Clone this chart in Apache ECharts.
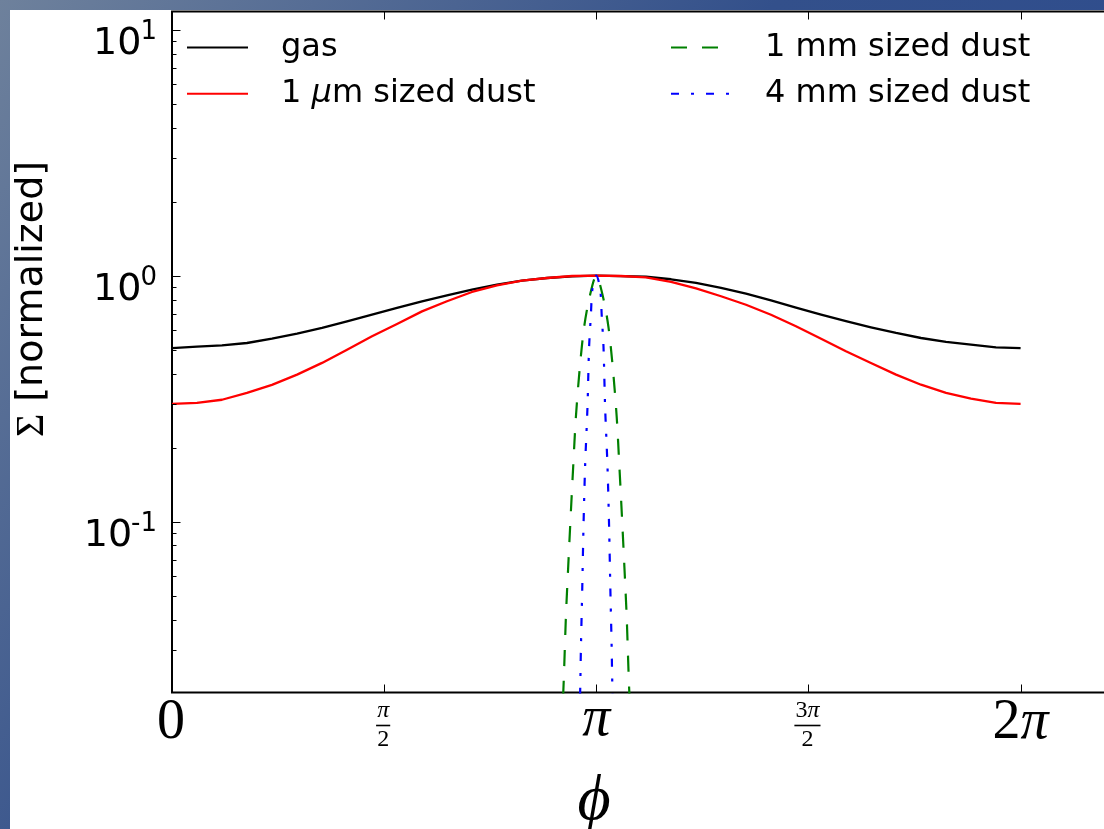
<!DOCTYPE html>
<html><head><meta charset="utf-8">
<script src="https://cdn.jsdelivr.net/npm/echarts@6/dist/echarts.min.js"></script>
<style>html,body{margin:0;padding:0;background:#fff}#c{width:1104px;height:829px}</style>
</head><body><div id="c"></div>
<script>
const PI = Math.PI;
// ---- data ----
const gasPhi   = [0, 0.185, 0.370, 0.555, 0.740, 0.926, 1.111, 1.296, 1.481, 1.666, 1.851, 2.036, 2.221, 2.406, 2.591, 2.777, 2.962, 3.1416,
                  3.324, 3.509, 3.695, 3.880, 4.065, 4.250, 4.435, 4.620, 4.806, 4.990, 5.175, 5.361, 5.546, 5.731, 5.916, 6.101, 6.2832];
const gasSigma = [0.508, 0.5143, 0.521, 0.5325, 0.5545, 0.581, 0.613, 0.6526, 0.694, 0.7391, 0.787, 0.8324, 0.877, 0.9192, 0.954, 0.9787, 0.994, 1.0,
                  0.996, 0.990, 0.967, 0.935, 0.893, 0.845, 0.794, 0.742, 0.694, 0.653, 0.617, 0.585, 0.558, 0.5376, 0.5242, 0.5116, 0.508];
const dust1umPhi   = gasPhi.slice();
const dust1umSigma = [0.301, 0.3038, 0.313, 0.3336, 0.360, 0.3959, 0.442, 0.5003, 0.567, 0.6364, 0.716, 0.7868, 0.8585, 0.914, 0.954, 0.9787, 0.997, 1.0,
                      0.997, 0.985, 0.943, 0.888, 0.825, 0.762, 0.694, 0.623, 0.5545, 0.493, 0.4417, 0.396, 0.3604, 0.3336, 0.3162, 0.3038, 0.301];
const dust1mmPhi   = [2.8866, 2.9016, 2.9166, 2.9336, 2.9516, 2.9706, 2.9906, 3.0202, 3.0520, 3.0924, 3.1416, 3.1908, 3.2312, 3.2630, 3.2926, 3.3126, 3.3316, 3.3496, 3.3666, 3.3816, 3.3966];
const dust1mmSigma = [0.0145, 0.0234, 0.0411, 0.0656, 0.1047, 0.1675, 0.267, 0.427, 0.621, 0.821, 1.0, 0.821, 0.621, 0.427, 0.267, 0.1675, 0.1047, 0.0656, 0.0411, 0.0234, 0.0145];
const dust4mmPhi   = [3.0166, 3.0242, 3.0279, 3.0379, 3.0468, 3.0587, 3.0764, 3.0883, 3.1009, 3.1136, 3.1416, 3.1696, 3.1823, 3.1949, 3.2068, 3.2245, 3.2364, 3.2453, 3.2553, 3.2590, 3.2666];
const dust4mmSigma = [0.0141, 0.0234, 0.0310, 0.0545, 0.0955, 0.1674, 0.2934, 0.514, 0.681, 0.889, 1.0, 0.889, 0.681, 0.514, 0.2934, 0.1674, 0.0955, 0.0545, 0.0310, 0.0234, 0.0141];
const seriesNames = ['gas', '1 μm sized dust', '1 mm sized dust', '4 mm sized dust'];
// ---- axes ----
const xTickValues = [0, PI / 2, PI, 3 * PI / 2, 2 * PI];
const xTickLabels = [['0'], ['π', '2'], ['π'], ['3π', '2'], ['2π']];
const yMajorTicks = [0.1, 1, 10];
const yMajorExponents = ['-1', '0', '1'];
const yMinorTicks = [0.03,0.04,0.05,0.06,0.07,0.08,0.09,0.2,0.3,0.4,0.5,0.6,0.7,0.8,0.9,2,3,4,5,6,7,8,9];
const xMin = 0, xMax = 7, yMin = 0.0202, yMax = 11.86;
const xAxisTitle = 'ϕ';
const yAxisTitle = ['Σ', ' [normalized]'];

const zip = (a, b) => a.map((v, i) => [v, b[i]]);
const mctx = document.createElement('canvas').getContext('2d');
function tw(text, font) { mctx.font = font; return mctx.measureText(text).width; }

const SERIF = "'Liberation Serif', 'DejaVu Serif', serif";
const SANS = "'DejaVu Sans', sans-serif";

function txt(text, x, y, font, align, valign, rich) {
  const st = { text: text, x: x, y: y, font: font, fill: '#000',
      align: align, textAlign: align, verticalAlign: valign, textVerticalAlign: valign };
  if (rich) st.rich = rich;
  return { type: 'text', style: st };
}

function renderDecor(params, api) {
  const ch = [];
  const tick = { stroke: '#000', lineWidth: 1 };
  xTickValues.forEach((v, i) => {
    const b = api.coord([v, yMin]), t = api.coord([v, yMax]);
    const x = Math.round(b[0]) + 0.5;
    ch.push({ type: 'line', shape: { x1: x, y1: b[1], x2: x, y2: b[1] - 8 }, style: tick });
    ch.push({ type: 'line', shape: { x1: x, y1: t[1], x2: x, y2: t[1] + 8 }, style: tick });
    const lab = xTickLabels[i];
    if (lab.length === 1) {
      const s = lab[0];
      if (s === 'π') ch.push(txt(s, b[0], 720, 'italic 56px ' + SERIF, 'center', 'middle'));
      else if (s === '2π') ch.push(txt('2{p|π}', b[0], 723, '56px ' + SERIF, 'center', 'middle', { p: { fontFamily: 'Liberation Serif', fontStyle: 'italic', fontSize: 56 } }));
      else ch.push(txt(s, b[0] - 1, 723, '56px ' + SERIF, 'center', 'middle'));
    } else {
      const cx = b[0] - 1;
      const numFont = '24px ' + SERIF;
      const w = tw(lab[0], numFont) + 2;
      const num = lab[0].replace('π', '{p|π}');
      ch.push(txt(num, cx, 711, numFont, 'center', 'middle', { p: { fontFamily: 'Liberation Serif', fontStyle: 'italic', fontSize: 24 } }));
      ch.push({ type: 'line', shape: { x1: cx - w / 2, y1: 725.5, x2: cx + w / 2, y2: 725.5 }, style: { stroke: '#000', lineWidth: 1.6 } });
      ch.push(txt(lab[1], cx, 740, numFont, 'center', 'middle'));
    }
  });
  yMajorTicks.forEach((v, i) => {
    const l = api.coord([xMin, v]), r = api.coord([xMax, v]);
    const y = Math.round(l[1]) + 0.5;
    ch.push({ type: 'line', shape: { x1: l[0], y1: y, x2: l[0] + 8.5, y2: y }, style: tick });
    ch.push({ type: 'line', shape: { x1: r[0], y1: y, x2: r[0] - 8.5, y2: y }, style: tick });
    const supFont = '26px ' + SANS;
    const sw = tw(yMajorExponents[i], supFont);
    ch.push(txt(yMajorExponents[i], 157, l[1] + 3, supFont, 'right', 'middle'));
    ch.push(txt('10', 157 - sw + 1, l[1] + 14.5, '38px ' + SANS, 'right', 'middle'));
  });
  yMinorTicks.forEach(v => {
    const l = api.coord([xMin, v]), r = api.coord([xMax, v]);
    const y = Math.round(l[1]) + 0.5;
    ch.push({ type: 'line', shape: { x1: l[0], y1: y, x2: l[0] + 4.5, y2: y }, style: tick });
    ch.push({ type: 'line', shape: { x1: r[0], y1: y, x2: r[0] - 4.5, y2: y }, style: tick });
  });
  // axis titles
  ch.push(txt(xAxisTitle, 594, 802, 'italic 64px ' + SERIF, 'center', 'middle'));
  ch.push({ type: 'text', x: 32, y: 299, rotation: PI / 2,
    style: { text: '{s|' + yAxisTitle[0] + '}' + yAxisTitle[1], font: '38px ' + SANS, fill: '#000',
      rich: { s: { fontFamily: 'Liberation Serif', fontSize: 40 } },
      align: 'center', textAlign: 'center', verticalAlign: 'middle', textVerticalAlign: 'middle' } });
  return { type: 'group', children: ch };
}

const chart = echarts.init(document.getElementById('c'), null, { renderer: 'canvas' });
const lineBase = { type: 'line', showSymbol: false, symbol: 'none', smooth: false, clip: true, animation: false, silent: true };
const dustBase = Object.assign({}, lineBase, { smooth: 0.3 });
const legendCommon = {
  orient: 'vertical', itemWidth: 61, itemHeight: 20, itemGap: 14.4, padding: 0, selectedMode: false,
  itemStyle: { opacity: 0 },
  textStyle: { fontFamily: 'DejaVu Sans', fontSize: 32, color: '#000', padding: [0, 0, 0, 28],
    rich: { m: { fontFamily: 'DejaVu Sans', fontStyle: 'italic', fontSize: 32 } } },
  formatter: n => n.replace('μ', '{m|μ}')
};
chart.setOption({
  animation: false,
  backgroundColor: new echarts.graphic.LinearGradient(0, 0, 1, 1, [
    { offset: 0, color: '#6e819c' }, { offset: 0.45, color: '#33508b' }, { offset: 1, color: '#2b4a8f' }]),
  graphic: { elements: [{ type: 'rect', shape: { x: 10, y: 10, width: 1094, height: 819 }, style: { fill: '#fff' }, z: -100, silent: true }] },
  grid: { left: 172, top: 11.5, width: 945.4, height: 681, show: true, borderColor: '#000', borderWidth: 2, backgroundColor: 'transparent', containLabel: false, outerBoundsMode: 'none' },
  xAxis: { type: 'value', min: xMin, max: xMax, axisLine: { show: false }, axisTick: { show: false }, axisLabel: { show: false }, splitLine: { show: false } },
  yAxis: { type: 'log', min: yMin, max: yMax, logBase: 10, axisLine: { show: false }, axisTick: { show: false }, axisLabel: { show: false }, splitLine: { show: false }, minorTick: { show: false } },
  legend: [
    Object.assign({}, legendCommon, { data: [seriesNames[0], seriesNames[1]], left: 186, top: 31.4 }),
    Object.assign({}, legendCommon, { data: [seriesNames[2], seriesNames[3]], left: 670, top: 31.4 })
  ],
  series: [
    Object.assign({}, lineBase, { name: seriesNames[0], data: zip(gasPhi, gasSigma), lineStyle: { color: '#000000', width: 2.3, join: 'round' }, itemStyle: { color: '#000000' } }),
    Object.assign({}, lineBase, { name: seriesNames[1], data: zip(dust1umPhi, dust1umSigma), lineStyle: { color: '#ff0000', width: 2.3, join: 'round' }, itemStyle: { color: '#ff0000' } }),
    Object.assign({}, dustBase, { name: seriesNames[2], data: zip(dust1mmPhi, dust1mmSigma), lineStyle: { color: '#008000', width: 2.2, type: [16, 15] }, itemStyle: { color: '#008000' } }),
    Object.assign({}, dustBase, { name: seriesNames[3], data: zip(dust4mmPhi, dust4mmSigma), lineStyle: { color: '#0000ff', width: 2.2, type: [8, 12, 3, 12] }, itemStyle: { color: '#0000ff' } }),
    { type: 'custom', silent: true, clip: false, z: 5, renderItem: renderDecor, data: [[1, 1]], encode: { x: 0, y: 1 } }
  ]
});
</script></body></html>
